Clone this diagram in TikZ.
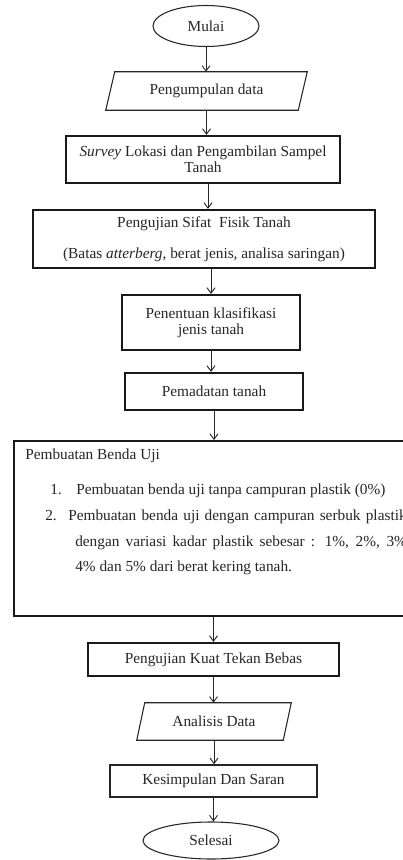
\documentclass[tikz,border=0pt]{standalone}
\usepackage{fontspec}
\setmainfont{Liberation Serif}
\usetikzlibrary{arrows.meta,shapes.geometric,calc}
\newcommand{\pxu}{0.75pt}
\begin{document}
\begin{tikzpicture}[x=0.75pt,y=-0.75pt,
  every node/.style={font=\fontsize{11.5pt}{12pt}\selectfont, text=black!85, inner sep=0pt, align=center},
  term/.style={ellipse, draw=black!85, line width=0.8pt},
  iobox/.style={rectangle},
  para/.style={draw=black!85, line width=0.8pt, line join=miter},
  tbox/.style={rectangle, draw=black!90, line width=1.7pt},
  mbox/.style={rectangle, draw=black!85, line width=1.2pt},
  txt/.style={anchor=base west, align=left},
  arr/.style={draw=black!85, -{Straight Barb[length=4pt,width=6pt]}, line width=0.7pt},
]
\useasboundingbox[fill=white] (0,0) rectangle (403,860);

\node[term, minimum width=106*\pxu, minimum height=41*\pxu] (mulai) at (206,26) {Mulai};

\node[iobox, minimum width=192*\pxu, minimum height=38*\pxu] (kumpul) at (206.5,91) {Pengumpulan data};
\draw[para] ([xshift=-4.5*\pxu]kumpul.south west) -- ([xshift=-4.5*\pxu]kumpul.south east)
  -- ([xshift=4.5*\pxu]kumpul.north east) -- ([xshift=4.5*\pxu]kumpul.north west) -- cycle;

\node[tbox, minimum width=274*\pxu, minimum height=47*\pxu] (survey) at (203,159.5)
  {\textit{Survey} Lokasi dan Pengambilan Sampel\\Tanah};

\node[tbox, minimum width=342*\pxu, minimum height=58*\pxu] (sifat) at (204,239)
  {Pengujian Sifat\ \ Fisik Tanah\\[11pt](Batas \textit{atterberg}, berat jenis, analisa saringan)};

\node[tbox, minimum width=178*\pxu, minimum height=55*\pxu] (tentu) at (211,322.5)
  {Penentuan klasifikasi\\jenis tanah};

\node[tbox, minimum width=178*\pxu, minimum height=37*\pxu] (padat) at (214,391.5) {Pemadatan tanah};

\begin{scope}
\clip (0,0) rectangle (403,860);
\node[tbox, anchor=north west, minimum width=420*\pxu, minimum height=175*\pxu] (benda) at (13,440) {};
\node[txt] (bjudul) at (25,459.5) {Pembuatan Benda Uji};
\node[txt] (bno1) at (50,494.5) {1.};
\node[txt] (bitem1) at (76,494.5) {Pembuatan benda uji tanpa campuran plastik (0\%)};
\node[txt] (bno2) at (45,520.5) {2.};
\node[txt] (bitem2) at (68,520.5) {\hbox spread 6pt{Pembuatan benda uji dengan campuran serbuk plastik}};
\node[txt] (bitem3) at (75,546.5) {\hbox spread 16pt{dengan variasi kadar plastik sebesar : 1\%, 2\%, 3\%}};
\node[txt] (bitem4) at (75,571.5) {4\% dan 5\% dari berat kering tanah.};
\end{scope}

\node[tbox, minimum width=251*\pxu, minimum height=33*\pxu] (kuat) at (213.5,659.5) {Pengujian Kuat Tekan Bebas};

\node[iobox, minimum width=146*\pxu, minimum height=37*\pxu] (analisis) at (214,721.5) {Analisis Data};
\draw[para] ([xshift=-4*\pxu]analisis.south west) -- ([xshift=-4*\pxu]analisis.south east)
  -- ([xshift=4*\pxu]analisis.north east) -- ([xshift=4*\pxu]analisis.north west) -- cycle;

\node[mbox, minimum width=207*\pxu, minimum height=32*\pxu] (simpul) at (213.5,781) {Kesimpulan Dan Saran};

\node[term, minimum width=136*\pxu, minimum height=37*\pxu] (selesai) at (211,840.5) {Selesai};

% connectors
\coordinate (s1) at ([xshift=5*\pxu]survey.south);
\draw[arr] (mulai.south) -- (mulai.south |- kumpul.north);
\draw[arr] (kumpul.south) -- (kumpul.south |- survey.north);
\draw[arr] (s1) -- (s1 |- sifat.north);
\draw[arr] (tentu.north |- sifat.south) -- (tentu.north);
\draw[arr] (tentu.south) -- (tentu.south |- padat.north);
\draw[arr] (padat.south) -- (padat.south |- benda.north);
\draw[arr] (kuat.north |- benda.south) -- (kuat.north);
\draw[arr] (kuat.south) -- (kuat.south |- analisis.north);
\draw[arr] (analisis.south) -- (analisis.south |- simpul.north);
\draw[arr] (simpul.south) -- (simpul.south |- selesai.north);
\end{tikzpicture}
\end{document}
